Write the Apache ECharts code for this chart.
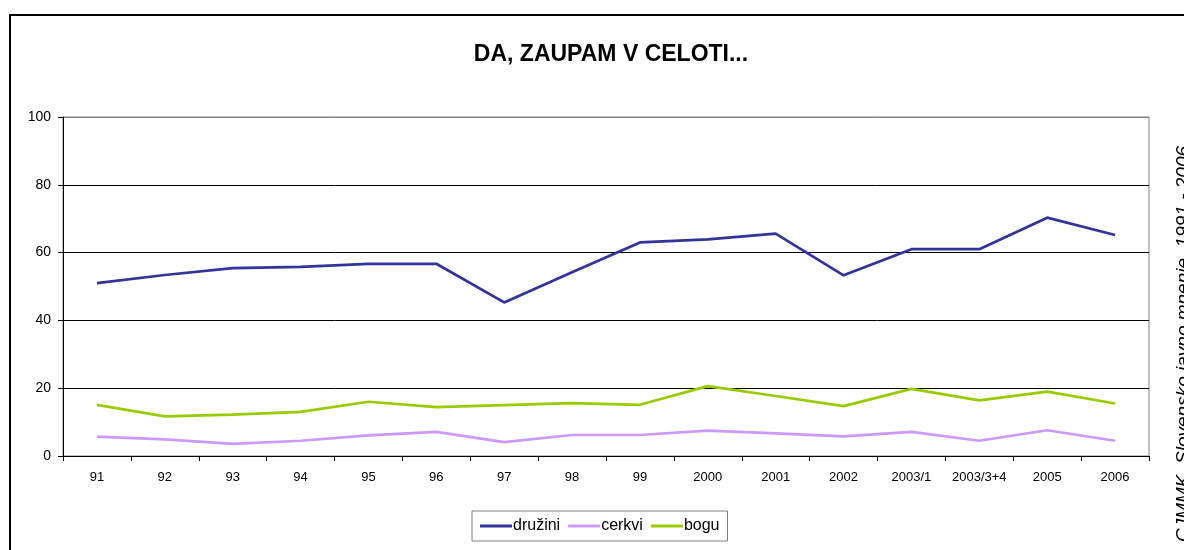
<!DOCTYPE html>
<html>
<head>
<meta charset="utf-8">
<script src="https://cdn.jsdelivr.net/npm/echarts@6/dist/echarts.min.js"></script>
<style>
  html, body { margin: 0; padding: 0; background: #fff; }
  #chart { width: 1184px; height: 550px; }
</style>
</head>
<body>
<div id="chart"></div>
<script>
const categories = ['91', '92', '93', '94', '95', '96', '97', '98', '99', '2000', '2001', '2002', '2003/1', '2003/3+4', '2005', '2006'];
const druzini = [51.0, 53.4, 55.4, 55.8, 56.7, 56.7, 45.3, 54.2, 63.0, 63.9, 65.6, 53.3, 61.0, 61.0, 70.3, 65.2];
const cerkvi = [5.7, 4.9, 3.6, 4.5, 6.1, 7.1, 4.1, 6.2, 6.2, 7.5, 6.7, 5.8, 7.1, 4.5, 7.6, 4.5];
const bogu = [15.1, 11.7, 12.2, 13.0, 16.0, 14.4, 15.0, 15.6, 15.1, 20.6, 17.7, 14.7, 19.8, 16.4, 19.0, 15.5];
const yTicks = [0, 20, 40, 60, 80, 100];

const font = 'Liberation Sans, Arial, sans-serif';
const chart = echarts.init(document.getElementById('chart'));

const lineSeries = (name, data, color) => ({
  name,
  type: 'line',
  data,
  symbol: 'none',
  lineStyle: { width: 2.7, color },
  itemStyle: { color },
  animation: false
});

chart.setOption({
  backgroundColor: '#fff',
  textStyle: { fontFamily: font },
  title: {
    text: 'DA, ZAUPAM V CELOTI...',
    left: 606,
    top: 38,
    textAlign: 'center',
    textStyle: { fontSize: 23, fontWeight: 'bold', color: '#000', fontFamily: font }
  },
  grid: {
    left: 63,
    right: 35,
    top: 117,
    bottom: 94,
    show: true,
    borderColor: '#808080',
    borderWidth: 1
  },
  legend: {
    left: 472,
    top: 511,
    padding: [7, 8, 7, 8],
    borderColor: '#808080',
    borderWidth: 1,
    itemWidth: 32,
    itemHeight: 3,
    itemGap: 8,
    icon: 'rect',
    textStyle: { fontSize: 16, color: '#000', fontFamily: font, padding: [0, 0, 0, -4] },
    data: ['družini', 'cerkvi', 'bogu']
  },
  xAxis: {
    type: 'category',
    data: categories,
    boundaryGap: true,
    axisLine: { lineStyle: { color: '#000', width: 1 } },
    axisTick: { show: true, length: 5, lineStyle: { color: '#000' } },
    axisLabel: { color: '#000', fontSize: 13, margin: 15, fontFamily: font, interval: 0 },
    splitLine: { show: false }
  },
  yAxis: {
    type: 'value',
    min: yTicks[0],
    max: yTicks[yTicks.length - 1],
    interval: 20,
    axisLine: { show: true, lineStyle: { color: '#000', width: 1 } },
    axisTick: { show: true, length: 5, lineStyle: { color: '#000' } },
    axisLabel: { color: '#000', fontSize: 14, margin: 12, fontFamily: font },
    splitLine: { show: true, lineStyle: { color: ['#000', '#000', '#000', '#000', '#000', '#808080'], width: 1 } }
  },
  graphic: [
    {
      type: 'rect',
      shape: { x: 10, y: 15, width: 1250, height: 600 },
      style: { fill: 'none', stroke: '#000', lineWidth: 2 },
      silent: true
    },
    {
      type: 'text',
      x: 1174,
      y: 344,
      rotation: Math.PI / 2,
      style: {
        text: 'CJMMK, Slovensko javno mnenje, 1991 - 2006',
        font: 'italic 19px ' + font,
        fill: '#000',
        align: 'center',
        verticalAlign: 'top'
      }
    }
  ],
  series: [
    lineSeries('družini', druzini, '#333399'),
    lineSeries('cerkvi', cerkvi, '#CC99FF'),
    lineSeries('bogu', bogu, '#99CC00')
  ]
});
</script>
</body>
</html>
